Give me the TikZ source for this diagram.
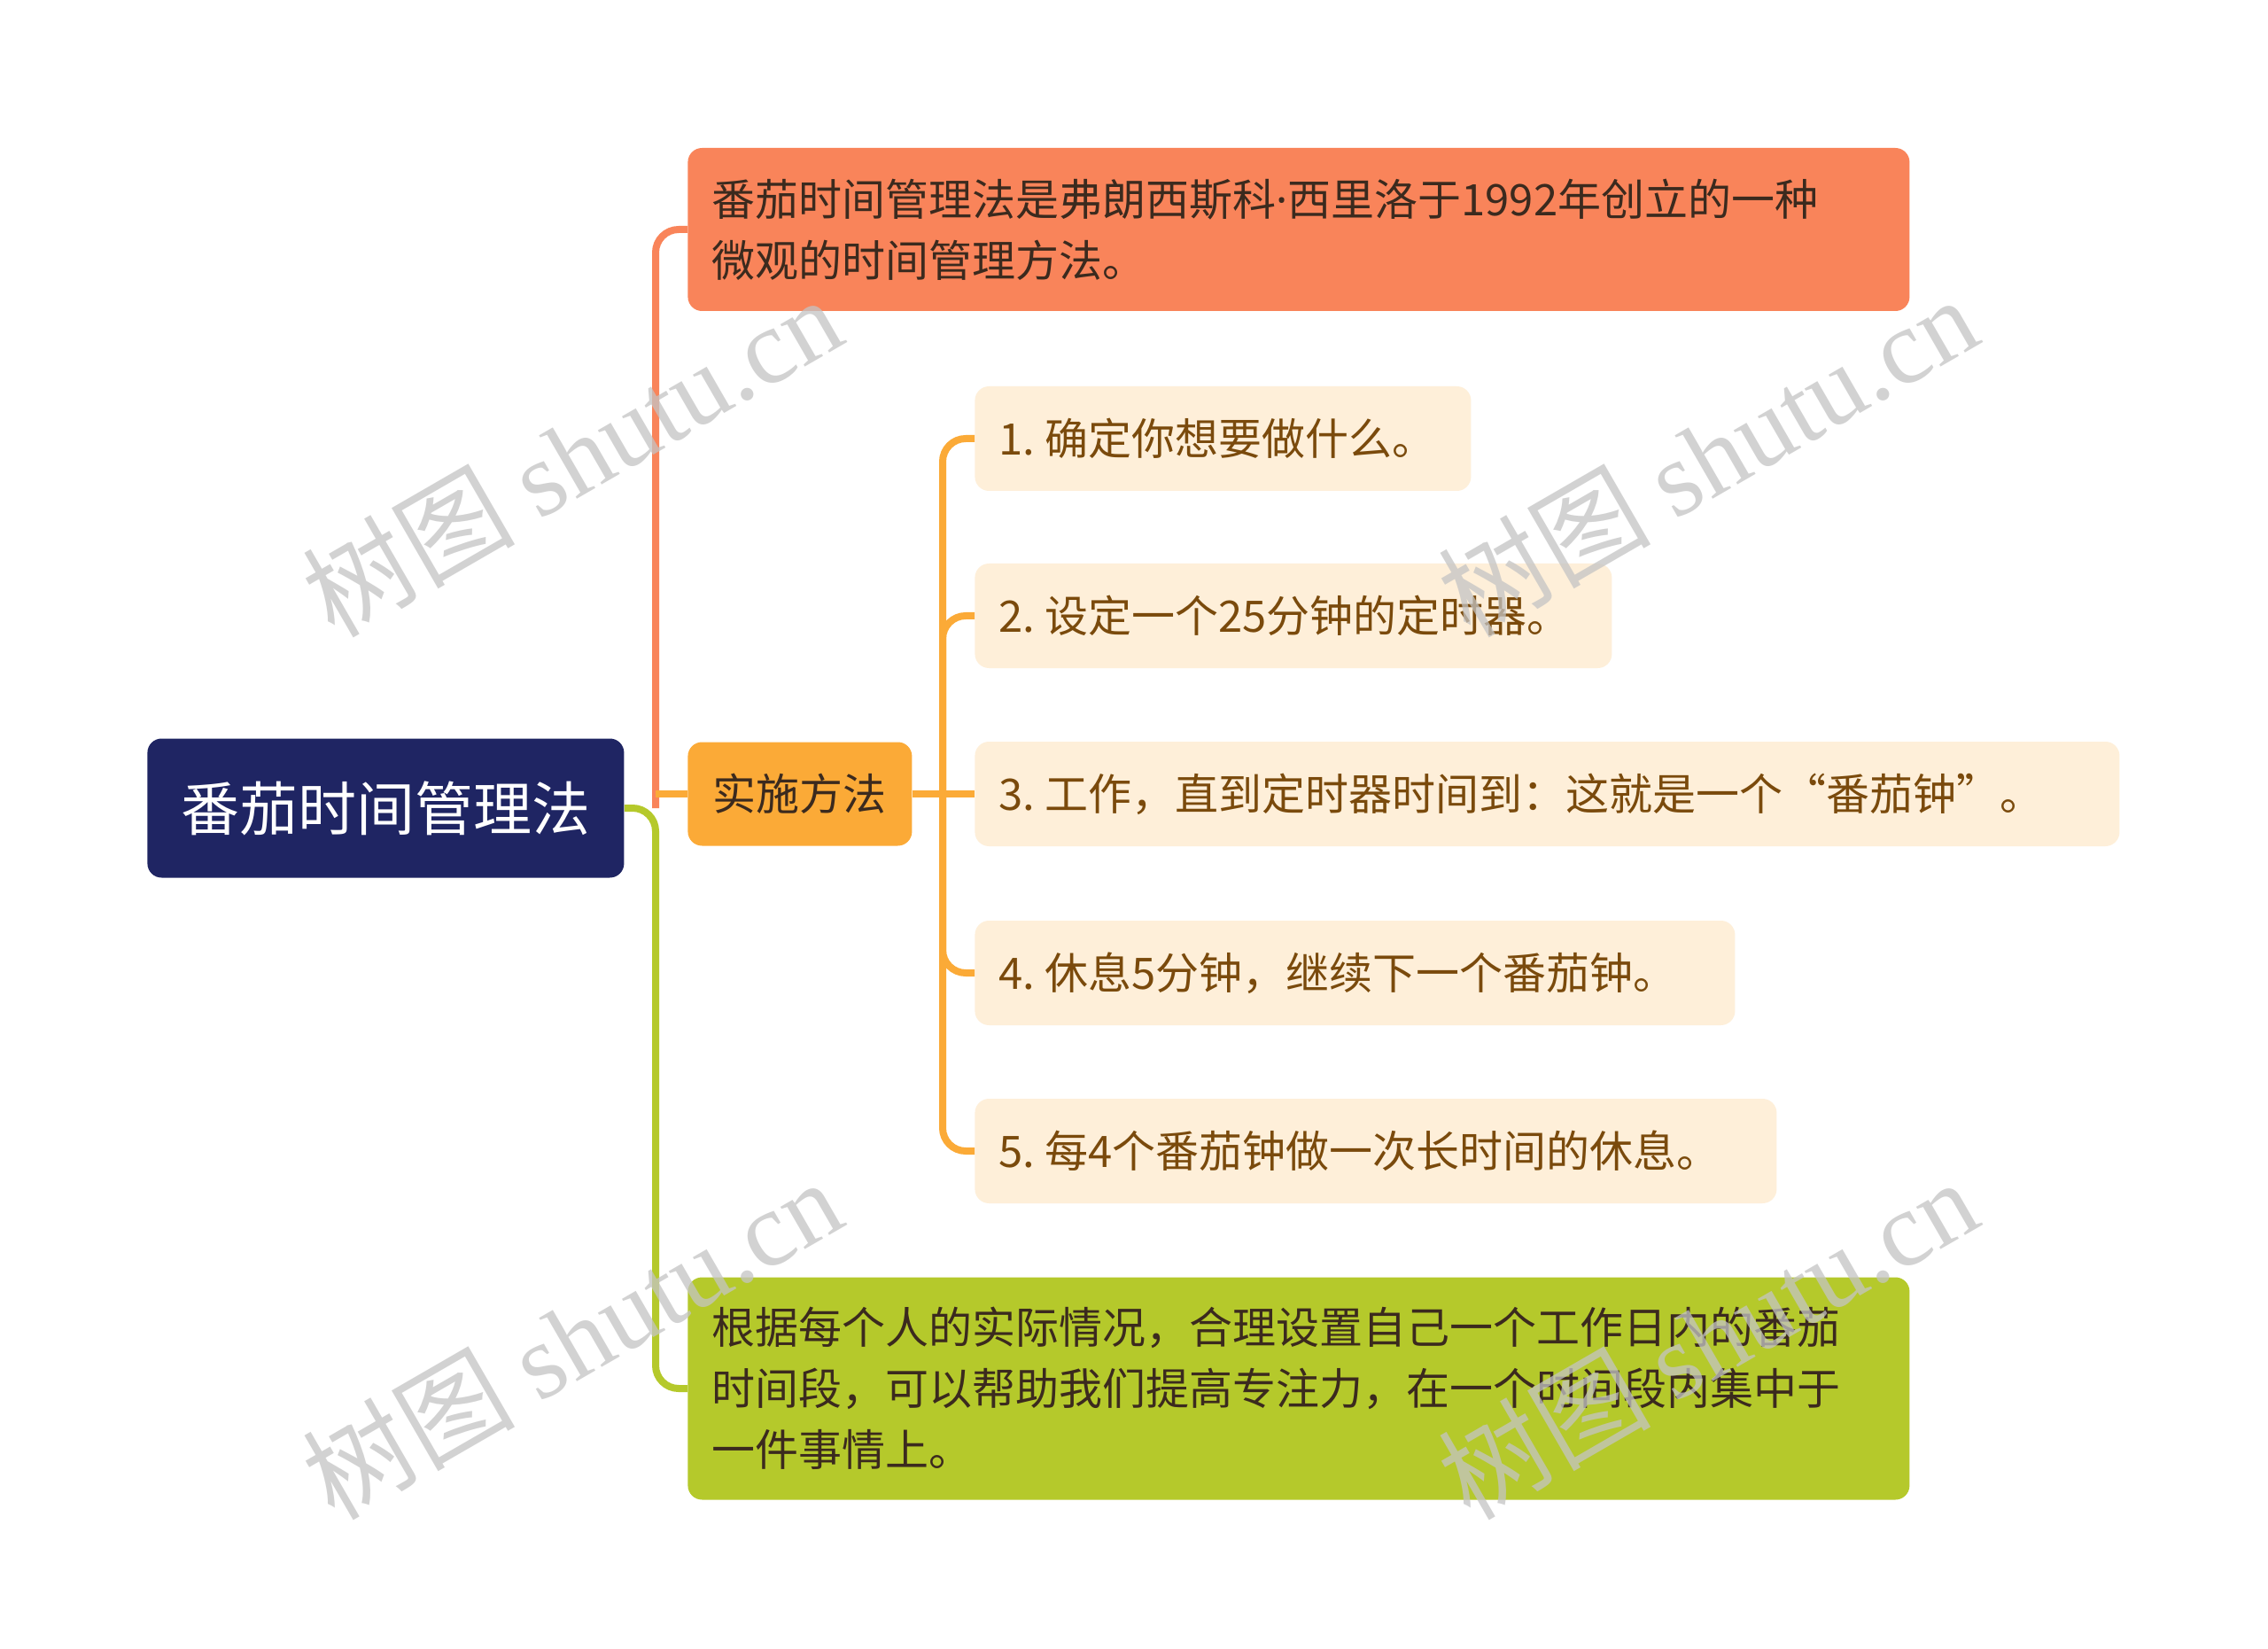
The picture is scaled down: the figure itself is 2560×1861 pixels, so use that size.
\documentclass[tikz,border=0pt]{standalone}
\usepackage{fontspec}
\setmainfont{Noto Sans CJK SC}
\newfontfamily\cjk{Noto Sans CJK SC}
\newfontfamily\latinsans{Noto Sans}
\newfontfamily\wmlatin{Liberation Serif}
\definecolor{navy}{HTML}{1F2563}
\definecolor{coral}{HTML}{F9845A}
\definecolor{amber}{HTML}{FBAA37}
\definecolor{cream}{HTML}{FEEFD9}
\definecolor{lime}{HTML}{B5C92B}
\definecolor{darktxt}{HTML}{3B2A1E}
\definecolor{browntxt}{HTML}{7A4A0C}
\definecolor{wmgray}{HTML}{C4C4C4}
\newcommand{\nsp}{\kern0.22em}
\begin{document}
\begin{tikzpicture}[x=0.5pt,y=-0.5pt,
  box/.style={rounded corners=8pt, inner ysep=0pt, anchor=west},
  bodytext/.style={font=\fontsize{24.5pt}{34.5pt}\selectfont},
  leftbox/.style={box, inner xsep=13.5pt, align=left},
  childbox/.style={leftbox, bodytext, fill=cream, text=browntxt, minimum height=59pt},
  conn/.style={line width=4pt, rounded corners=13pt},
  wm/.style={text=wmgray, opacity=0.75, rotate=30, font=\fontsize{60pt}{60pt}\selectfont}
]
\useasboundingbox (0,0) rectangle (2560,1861);
\fill[white] (0,0) rectangle (2560,1861);

% nodes
\node[box, fill=navy, text=white, minimum width=269pt, minimum height=78.5pt,
      font=\fontsize{33pt}{40pt}\selectfont, align=center] (root) at (166,912) {番茄时间管理法};

\node[leftbox, bodytext, fill=coral, text=darktxt, minimum height=92pt, text width=662.5pt]
  (A) at (776,259) {番茄时间管理法是弗朗西斯科{\latinsans ·}西里洛于1992年创立的一种\\微观的时间管理方法。};

\node[box, bodytext, fill=amber, text=darktxt, minimum width=126.5pt, minimum height=58.5pt, align=center]
  (B) at (776,896) {实施方法};

\node[childbox, text width=253pt] (c1) at (1100,495) {1.\nsp 确定你想要做什么。};
\node[childbox, text width=332.5pt] (c2) at (1100,695) {2.\nsp 设定一个25分钟的定时器。};
\node[childbox, text width=619pt] (c3) at (1100,896) {3.\nsp 工作，直到定时器时间到：这就是一个“番茄钟”。};
\node[childbox, text width=402pt] (c4) at (1100,1098) {4.\nsp 休息5分钟，继续下一个番茄钟。};
\node[childbox, text width=425.5pt] (c5) at (1100,1299) {5.\nsp 每4个番茄钟做一次长时间的休息。};

\node[leftbox, bodytext, fill=lime, text=darktxt, minimum height=125.5pt, text width=662.5pt]
  (C) at (776,1567) {根据每个人的实际情况，合理设置自己一个工作日内的番茄\\时间段，可以帮助我们提高专注力，在一个时间段内集中于\\一件事情上。};

% connectors
\coordinate (fork) at (740,912);
\coordinate (cfork) at (1064,896);
\draw[conn, coral] (fork) |- (A.west);
\draw[conn, amber] (B.west -| fork) -- (B.west);
\draw[conn, lime] (root.east) -- (fork) |- (C.west);

\draw[conn, amber] (B.east) -- (c3.west);
\draw[conn, amber] (cfork) |- (c1.west);
\draw[conn, amber] (cfork) |- (c2.west);
\draw[conn, amber] (cfork) |- (c4.west);
\draw[conn, amber] (cfork) |- (c5.west);

% watermarks
\node[wm] (w1) at (645,514) {{\cjk 树图} {\wmlatin shutu.cn}};
\node[wm] (w2) at (1927,514) {{\cjk 树图} {\wmlatin shutu.cn}};
\node[wm] (w3) at (645,1510) {{\cjk 树图} {\wmlatin shutu.cn}};
\node[wm] (w4) at (1927,1510) {{\cjk 树图} {\wmlatin shutu.cn}};
\end{tikzpicture}
\end{document}
